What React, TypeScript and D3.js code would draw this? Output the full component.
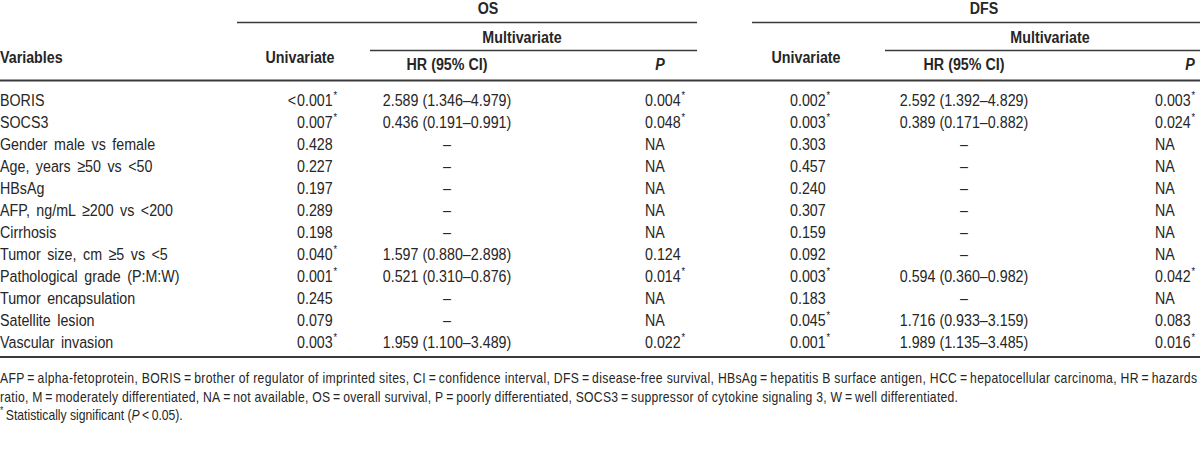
import React from "react";
import * as d3 from "d3";

const variables = [
  "BORIS",
  "SOCS3",
  "Gender male vs female",
  "Age, years \u226550 vs <50",
  "HBsAg",
  "AFP, ng/mL \u2265200 vs <200",
  "Cirrhosis",
  "Tumor size, cm \u22655 vs <5",
  "Pathological grade (P:M:W)",
  "Tumor encapsulation",
  "Satellite lesion",
  "Vascular invasion",
];

const osUnivariate = ["<0.001*", "0.007*", "0.428", "0.227", "0.197", "0.289", "0.198", "0.040*", "0.001*", "0.245", "0.079", "0.003*"];
const osHR = ["2.589 (1.346\u20134.979)", "0.436 (0.191\u20130.991)", "\u2013", "\u2013", "\u2013", "\u2013", "\u2013", "1.597 (0.880\u20132.898)", "0.521 (0.310\u20130.876)", "\u2013", "\u2013", "1.959 (1.100\u20133.489)"];
const osP = ["0.004*", "0.048*", "NA", "NA", "NA", "NA", "NA", "0.124", "0.014*", "NA", "NA", "0.022*"];
const dfsUnivariate = ["0.002*", "0.003*", "0.303", "0.457", "0.240", "0.307", "0.159", "0.092", "0.003*", "0.183", "0.045*", "0.001*"];
const dfsHR = ["2.592 (1.392\u20134.829)", "0.389 (0.171\u20130.882)", "\u2013", "\u2013", "\u2013", "\u2013", "\u2013", "\u2013", "0.594 (0.360\u20130.982)", "\u2013", "1.716 (0.933\u20133.159)", "1.989 (1.135\u20133.485)"];
const dfsP = ["0.003*", "0.024*", "NA", "NA", "NA", "NA", "NA", "NA", "0.042*", "NA", "0.083", "0.016*"];

const groupLabels = ["OS", "DFS"];
const footnoteLine1 =
  "AFP\u2009=\u2009alpha-fetoprotein, BORIS\u2009=\u2009brother of regulator of imprinted sites, CI\u2009=\u2009confidence interval, DFS\u2009=\u2009disease-free survival, HBsAg\u2009=\u2009hepatitis B surface antigen, HCC\u2009=\u2009hepatocellular carcinoma, HR\u2009=\u2009hazards";
const footnoteLine2 =
  "ratio, M\u2009=\u2009moderately differentiated, NA\u2009=\u2009not available, OS\u2009=\u2009overall survival, P\u2009=\u2009poorly differentiated, SOCS3\u2009=\u2009suppressor of cytokine signaling 3, W\u2009=\u2009well differentiated.";

const W = 1200;
const H = 449;
const FONT = "'Liberation Sans Narrow', 'Arial Narrow', 'Liberation Sans', Arial, sans-serif";
const TEXT = "#262626";
const LINE = "#3a3a3a";
const FS = 17;
const SX = 0.84;

type TProps = {
  x: number;
  y: number;
  anchor?: "start" | "middle" | "end";
  bold?: boolean;
  italic?: boolean;
  children?: React.ReactNode;
  textLength?: number;
  wordSpacing?: number;
};

function T({ x, y, anchor = "start", bold, italic, children, textLength, wordSpacing }: TProps) {
  return (
    <text
      transform={`translate(${x},${y}) scale(${SX},1)`}
      textAnchor={anchor}
      fontWeight={bold ? "bold" : undefined}
      fontStyle={italic ? "italic" : undefined}
      textLength={textLength}
      lengthAdjust={textLength ? "spacing" : undefined}
      style={wordSpacing ? { wordSpacing: `${wordSpacing}px` } : undefined}
    >
      {children}
    </text>
  );
}

function Star({ size = 11 }: { size?: number }) {
  return (
    <tspan dx={1} dy={-7} fontSize={size}>
      *
    </tspan>
  );
}

function NumCell({ x, y, value }: { x: number; y: number; value: string }) {
  const star = value.endsWith("*");
  let body = star ? value.slice(0, -1) : value;
  let prefix = "";
  if (body.startsWith("<")) {
    prefix = "<";
    body = body.slice(1);
  }
  return (
    <g>
      {prefix && (
        <T x={x - 1} y={y} anchor="end">
          {prefix}
        </T>
      )}
      <T x={x} y={y}>
        {body}
        {star && <Star />}
      </T>
    </g>
  );
}

export default function App() {
  const rowY = d3.scalePoint<string>().domain(variables).range([100, 342]);
  const base = (v: string) => (rowY(v) as number) + 6;

  const groups = [
    { label: groupLabels[0], labelX: 488, x0: 237, x1: 697, mv0: 370, mvX: 522, univX: 297, univHead: 300, hrX: 447, pX: 645, pHead: 660, univ: osUnivariate, hr: osHR, p: osP },
    { label: groupLabels[1], labelX: 984, x0: 752, x1: 1200, mv0: 885, mvX: 1050, univX: 790, univHead: 806, hrX: 964, pX: 1155, pHead: 1190, univ: dfsUnivariate, hr: dfsHR, p: dfsP },
  ];

  return (
    <svg
      width={W}
      height={H}
      viewBox={`0 0 ${W} ${H}`}
      style={{ position: "absolute", left: 0, top: 0, background: "#fff" }}
      fontFamily={FONT}
      fontSize={FS}
      fill={TEXT}
    >
      <rect x={0} y={0} width={W} height={H} fill="#fff" />
      {/* headers */}
      <T x={0} y={63} bold>
        Variables
      </T>
      {groups.map((g) => (
        <g key={g.label}>
          <T x={g.labelX} y={14} bold anchor="middle">
            {g.label}
          </T>
          <line x1={g.x0} x2={g.x1} y1={22.5} y2={22.5} stroke={LINE} strokeWidth={1.3} />
          <T x={g.mvX} y={43} bold anchor="middle">
            Multivariate
          </T>
          <line x1={g.mv0} x2={g.x1} y1={50.5} y2={50.5} stroke={LINE} strokeWidth={1.3} />
          <T x={g.univHead} y={63} bold anchor="middle">
            Univariate
          </T>
          <T x={g.hrX} y={70} bold anchor="middle">
            HR (95% CI)
          </T>
          <T x={g.pHead} y={70} bold italic anchor="middle">
            P
          </T>
        </g>
      ))}
      <line x1={0} x2={W} y1={80.5} y2={80.5} stroke={LINE} strokeWidth={2.2} />

      {/* body */}
      {variables.map((v, i) => (
        <g key={v}>
          <T x={0} y={base(v)} wordSpacing={3}>
            {v}
          </T>
          {groups.map((g) => (
            <g key={g.label}>
              <NumCell x={g.univX} y={base(v)} value={g.univ[i]} />
              <T x={g.hrX} y={base(v)} anchor="middle">
                {g.hr[i]}
              </T>
              <NumCell x={g.pX} y={base(v)} value={g.p[i]} />
            </g>
          ))}
        </g>
      ))}
      <line x1={0} x2={W} y1={357} y2={357} stroke={LINE} strokeWidth={2.2} />

      {/* footnotes */}
      <g fontSize={14.5}>
        <T x={0} y={383} textLength={1197 / SX}>
          {footnoteLine1}
        </T>
        <T x={0} y={402} textLength={958 / SX}>
          {footnoteLine2}
        </T>
        <T x={0} y={420}>
          <tspan fontSize={10} dy={-6}>
            *
          </tspan>
          <tspan dy={6} dx={3}>
            Statistically significant (
          </tspan>
          <tspan fontStyle="italic">P</tspan>
          <tspan>{"\u2009<\u20090.05)."}</tspan>
        </T>
      </g>
    </svg>
  );
}
